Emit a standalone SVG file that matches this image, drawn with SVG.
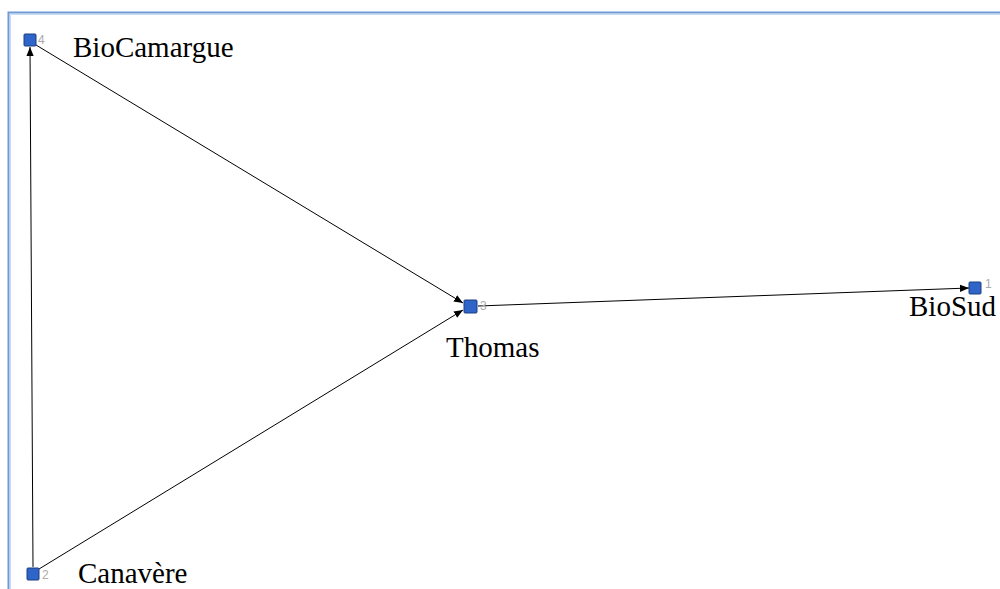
<svg xmlns="http://www.w3.org/2000/svg" width="1000" height="589" viewBox="0 0 1000 589">
  <style>
    .node rect { fill: #2f64c8; stroke: #1d3f80; stroke-width: 1; }
    .idx { font-family: "Liberation Sans", Arial, sans-serif; font-size: 12px; fill: #aaaaaa; }
    .label { font-family: "Liberation Serif", "Times New Roman", serif; font-size: 29px; fill: #000; }
    .edge { stroke: #000; stroke-width: 1; fill: none; marker-end: url(#arrow); }
  </style>
  <defs>
    <marker id="arrow" viewBox="0 0 10 10" refX="10" refY="5" markerWidth="9" markerHeight="9" markerUnits="userSpaceOnUse" orient="auto">
      <path d="M0,1 L10,5 L0,9 Z" fill="#000"/>
    </marker>
  </defs>
  <rect width="1000" height="589" fill="#fff"/>
  <!-- frame -->
  <path d="M8.5,589 L8.5,12.5 L1000,12.5" fill="none" stroke="#6f9ad6" stroke-width="2"/>
  <path d="M10.5,589 L10.5,14.5 L1000,14.5" fill="none" stroke="#c9dbf2" stroke-width="1"/>

  <g id="connectors">
    <line class="edge" x1="33" y1="567" x2="30" y2="47"/>
    <line class="edge" x1="36" y1="45" x2="463" y2="303"/>
    <line class="edge" x1="39" y1="569" x2="463" y2="310"/>
    <line class="edge" x1="478" y1="306" x2="969" y2="288"/>
  </g>

  <g id="node-4" class="node">
    <rect x="24" y="34" width="12" height="12" rx="1"/>
    <text class="idx" x="38" y="44">4</text>
    <text class="label" x="73" y="57">BioCamargue</text>
  </g>
  <g id="node-2" class="node">
    <rect x="27" y="568" width="12" height="12" rx="1"/>
    <text class="idx" x="42" y="579">2</text>
    <text class="label" x="78" y="583">Canavère</text>
  </g>
  <g id="node-3" class="node">
    <rect x="464" y="300" width="13" height="13" rx="1"/>
    <text class="idx" x="480" y="310">3</text>
    <text class="label" x="446" y="357">Thomas</text>
  </g>
  <g id="node-1" class="node">
    <rect x="969" y="282" width="12" height="12" rx="1"/>
    <text class="idx" x="985" y="288">1</text>
    <text class="label" x="909" y="316">BioSud</text>
  </g>
</svg>
